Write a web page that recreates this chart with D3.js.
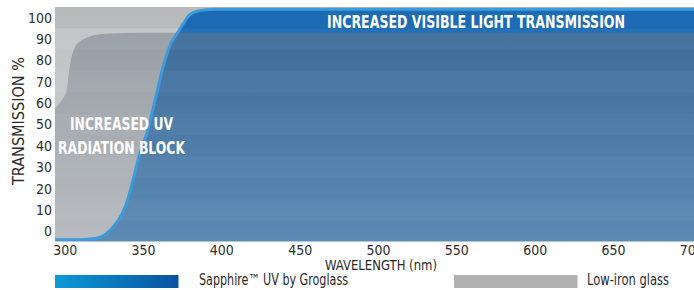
<!DOCTYPE html>
<html>
<head>
<meta charset="utf-8">
<script src="https://cdn.jsdelivr.net/npm/d3@7"></script>
<style>
	html, body { margin: 0; padding: 0; background: #fff; }
	svg { display: block; font-family: 'Liberation Sans Narrow', 'DejaVu Sans Condensed', sans-serif; }
</style>
</head>
<body>
<svg id="chart" width="694" height="290"></svg>
<script>
// wavelength (nm) / transmission (%)
var sapphireNm  = [293.8, 310, 318, 325, 329, 333, 337.2, 340.5, 343.6, 348, 352.5, 357.6, 362.7, 367.2, 371.7, 376, 380, 386.3, 395, 420, 702];
var sapphirePct = [-4, -3.9, -3.5, -2, 0.5, 4, 9, 15.5, 24, 36.5, 46, 61, 76.6, 87, 92.5, 97.5, 101.5, 103.3, 104, 104, 104];

var lowIronNm  = [293.8, 298.1, 301.3, 302.3, 303.8, 306.6, 310.9, 316.1, 322.5, 328.9, 350, 702];
var lowIronPct = [57.6, 61.3, 66, 72, 79.5, 86.2, 89.4, 91.2, 92.2, 92.6, 93, 93];

var xTicks = [300, 350, 400, 450, 500, 550, 600, 650, 700];
var yTicks = [0, 10, 20, 30, 40, 50, 60, 70, 80, 90, 100];
var bandEdges = [-5, 5, 15, 25, 35, 45, 55, 65, 75, 85, 95, 105];

var legendNames = ['Sapphire\u2122 UV by Groglass', 'Low-iron glass'];

(function () {

var svg = d3.select('#chart');
var left = 55, right = 694, top = 7, bottom = 242;

// ticks are centred on their values, the plot starts a bit before 300
var x = d3.scaleLinear().domain([300, 700]).range([64.7, 691.3]);
var y = d3.scaleLinear().domain([-5, 105]).range([bottom, top]);

var sapphire = sapphireNm.map(function (d, i) { return [d, sapphirePct[i]]; });
var lowIron = lowIronNm.map(function (d, i) { return [d, lowIronPct[i]]; });

var defs = svg.append('defs');

function vGrad(id, stops) {
	var g = defs.append('linearGradient').attr('id', id)
		.attr('x1', 0).attr('y1', 0).attr('x2', 0).attr('y2', 1);
	stops.forEach(function (s) {
		g.append('stop').attr('offset', s[0]).attr('stop-color', s[1]);
	});
}
vGrad('bgGrad', [[0, '#c2c3c5'], [1, '#c9cacc']]);
vGrad('grayGrad', [[0, '#989ea5'], [1, '#b8bcc0']]);
vGrad('blueGrad', [[0, '#3b6a98'], [1, '#5b8ab3']]);

var lg = defs.append('linearGradient').attr('id', 'legendBlue');
lg.append('stop').attr('offset', 0).attr('stop-color', '#0b9ad8');
lg.append('stop').attr('offset', 1).attr('stop-color', '#0a52a0');

defs.append('clipPath').attr('id', 'plotClip').append('rect')
	.attr('x', left).attr('y', top).attr('width', right - left).attr('height', bottom - top);

// region above the low-iron curve, used to paint the extra visible transmission
defs.append('clipPath').attr('id', 'aboveLowIron').append('path')
	.attr('d', d3.area().x(function (d) { return x(d[0]); })
		.y0(top).y1(function (d) { return y(d[1]); })
		.curve(d3.curveMonotoneX)(lowIron));

var plot = svg.append('g').attr('clip-path', 'url(#plotClip)');

plot.append('rect').attr('x', left).attr('y', top)
	.attr('width', right - left).attr('height', bottom - top)
	.attr('fill', 'url(#bgGrad)');

// top strip of the background is a little darker
plot.append('rect').attr('x', left).attr('y', top)
	.attr('width', right - left).attr('height', y(95) - top)
	.attr('fill', '#000').attr('opacity', 0.05);

var area = d3.area()
	.x(function (d) { return x(d[0]); })
	.y0(bottom)
	.y1(function (d) { return y(d[1]); })
	.curve(d3.curveMonotoneX);

plot.append('path').datum(lowIron).attr('d', area).attr('fill', 'url(#grayGrad)');
plot.append('path').datum(sapphire).attr('d', area).attr('fill', 'url(#blueGrad)');
plot.append('path').datum(sapphire).attr('d', area)
	.attr('clip-path', 'url(#aboveLowIron)').attr('fill', '#1c6bb4');

// faint horizontal bands
var bands = d3.pairs(bandEdges);
plot.selectAll('.band').data(bands).enter().append('rect')
	.attr('class', 'band')
	.attr('x', left).attr('width', right - left)
	.attr('y', function (d) { return y(d[1]); })
	.attr('height', function (d) { return y(d[0]) - y(d[1]); })
	.attr('fill', '#fff')
	.attr('opacity', function (d, i) { return i % 2 ? 0.035 : 0; });

plot.append('path').datum(sapphire)
	.attr('d', d3.line().x(function (d) { return x(d[0]); })
		.y(function (d) { return y(d[1]); }).curve(d3.curveMonotoneX))
	.attr('fill', 'none').attr('stroke', '#3d9bdb').attr('stroke-width', 3);

svg.append('line').attr('x1', left).attr('x2', right)
	.attr('y1', bottom - 0.5).attr('y2', bottom - 0.5)
	.attr('stroke', '#b3c6d9').attr('stroke-width', 1.2);

// axes
var yAxis = svg.append('g').attr('transform', 'translate(52,0)')
	.call(d3.axisLeft(y).tickValues(yTicks).tickSize(0).tickPadding(0));
var xAxis = svg.append('g').attr('transform', 'translate(0,' + bottom + ')')
	.call(d3.axisBottom(x).tickValues(xTicks).tickSize(0).tickPadding(3));

[yAxis, xAxis].forEach(function (ax) {
	ax.select('.domain').remove();
	ax.selectAll('text').attr('fill', '#2e2e2e')
		.style('font-family', "'Liberation Sans Narrow', 'DejaVu Sans Condensed', sans-serif")
		.style('font-size', '14px');
});

svg.append('text').text('TRANSMISSION %')
	.attr('transform', 'translate(24,121) rotate(-90)')
	.attr('text-anchor', 'middle').attr('fill', '#2a2a2a')
	.attr('font-size', 16).attr('textLength', 128).attr('lengthAdjust', 'spacingAndGlyphs');

svg.append('text').text('WAVELENGTH (nm)')
	.attr('x', 381).attr('y', 270).attr('text-anchor', 'middle').attr('fill', '#2a2a2a')
	.attr('font-size', 14.5).attr('textLength', 112).attr('lengthAdjust', 'spacingAndGlyphs');

// annotations
function note(str, cx, by, w) {
	svg.append('text').text(str)
		.attr('x', cx).attr('y', by).attr('text-anchor', 'middle')
		.attr('fill', '#fff').attr('font-weight', 'bold').attr('font-size', 17.5)
		.attr('textLength', w).attr('lengthAdjust', 'spacingAndGlyphs');
}
note('INCREASED VISIBLE LIGHT TRANSMISSION', 476, 27.5, 298);
note('INCREASED UV', 121.5, 130, 103);
note('RADIATION BLOCK', 121.5, 154, 127);

// legend
var legend = svg.append('g');
var legendItems = [
	{ name: legendNames[0], fill: 'url(#legendBlue)', rx: 55, tx: 199, tw: 149 },
	{ name: legendNames[1], fill: '#b1b1b1', rx: 454, tx: 587, tw: 82 }
];
legend.selectAll('rect').data(legendItems).enter().append('rect')
	.attr('x', function (d) { return d.rx; }).attr('y', 275)
	.attr('width', 123.5).attr('height', 13)
	.attr('fill', function (d) { return d.fill; });
legend.selectAll('text').data(legendItems).enter().append('text')
	.attr('x', function (d) { return d.tx; }).attr('y', 284.5)
	.attr('fill', '#2a2a2a').attr('font-size', 15)
	.attr('textLength', function (d) { return d.tw; }).attr('lengthAdjust', 'spacingAndGlyphs')
	.text(function (d) { return d.name; });

})();
</script>
</body>
</html>
